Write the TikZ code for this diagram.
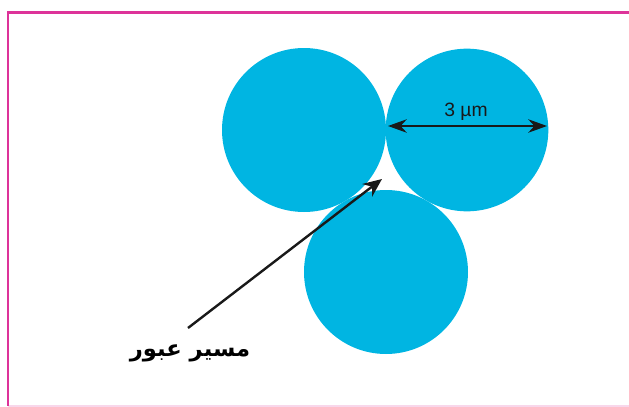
\documentclass[tikz,border=0pt]{standalone}
\usepackage{fontspec}
\setmainfont{Liberation Sans}
\newfontfamily\arabicfont[Script=Arabic]{DejaVu Sans}
\TeXXeTstate=1
\usetikzlibrary{arrows.meta}
\definecolor{cellblue}{RGB}{0,181,226}
\definecolor{framepink}{RGB}{221,51,153}
\definecolor{lightpink}{RGB}{248,215,235}
\definecolor{inkdark}{RGB}{25,25,25}
\begin{document}
\begin{tikzpicture}[x=0.75pt,y=-0.75pt,
  cell/.style={circle,fill=cellblue,draw=none,inner sep=0pt},
  pointer/.style={draw=inkdark,line width=1.8pt,-{Stealth[length=14pt,width=12pt]}},
  dimline/.style={draw=inkdark,line width=2pt,{Stealth[length=14pt,width=10pt]}-{Stealth[length=14pt,width=10pt]}}]
\useasboundingbox (0,0) rectangle (629,407);
% frame
\draw[lightpink,line width=1.2pt] (8,406) -- (629,406);
\draw[framepink,line width=2pt] (8,406) -- (8,12.5) -- (629,12.5);
% cells
\node[cell,minimum size=123pt] (tl) at (304,130) {};
\node[cell,minimum size=122pt] (tr) at (467,130) {};
\node[cell,minimum size=123pt] (bt) at (386,272) {};
% dimension
\coordinate (dl) at (388,126);
\coordinate (dr) at (547,126);
\draw[dimline] (dl) -- (dr);
\node[text=inkdark,font=\fontsize{14.5pt}{17pt}\selectfont] (dim) at (466,112) {3 µm};
% label and pointer
\node[font=\arabicfont\bfseries\fontsize{17pt}{20pt}\selectfont] (lbl) at (190,353) {\beginR مسير عبور\endR};
\coordinate (ps) at (188,328);
\coordinate (pe) at (382,179);
\draw[pointer] (ps) -- (pe);
\end{tikzpicture}
\end{document}
